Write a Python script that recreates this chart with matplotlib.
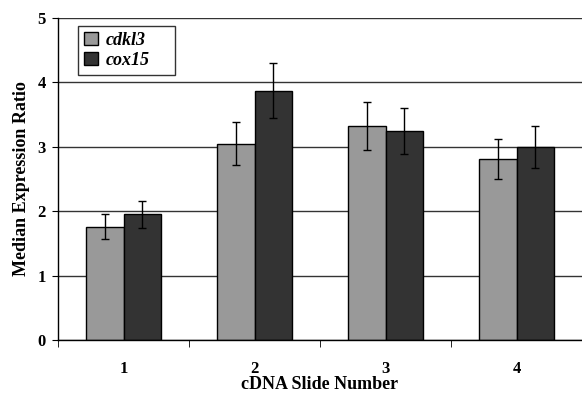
import numpy as np
import matplotlib.pyplot as plt
from matplotlib.patches import Patch

slides = ["1", "2", "3", "4"]
cdkl3 = [1.76, 3.05, 3.32, 2.81]
cdkl3_err = [0.195, 0.33, 0.37, 0.315]
cox15 = [1.95, 3.87, 3.24, 3.00]
cox15_err = [0.21, 0.43, 0.355, 0.325]

plt.rcParams['font.family'] = ['Liberation Serif', 'DejaVu Serif']

fig = plt.figure(figsize=(5.82, 3.98), dpi=100)
ax = fig.add_axes([0.0997, 0.1457, 0.9003, 0.8091])

x = np.arange(1, len(slides) + 1)
w = 0.285
ax.set_axisbelow(True)
ax.yaxis.grid(True, color='#333333', linewidth=1.0)
ax.bar(x - w / 2, cdkl3, w, color='#999999', edgecolor='black', linewidth=1.0,
       yerr=cdkl3_err, error_kw=dict(ecolor='black', elinewidth=1.0, capsize=3, capthick=1.0))
ax.bar(x + w / 2, cox15, w, color='#333333', edgecolor='black', linewidth=1.0,
       yerr=cox15_err, error_kw=dict(ecolor='black', elinewidth=1.0, capsize=3, capthick=1.0))

ax.set_xlim(0.5, len(slides) + 0.5)
ax.set_ylim(0, 5)
ax.set_yticks(range(0, 6))
ax.set_xticks(x)
ax.set_xticklabels(slides)
ax.set_xticks(np.arange(0.5, len(slides) + 0.5), minor=True)
ax.tick_params(axis='x', which='major', length=0, pad=15, labelsize=12)
ax.tick_params(axis='x', which='minor', length=5, direction='out', color='black')
ax.tick_params(axis='y', length=4, direction='out', pad=5, labelsize=12)
for lbl in ax.get_xticklabels() + ax.get_yticklabels():
    lbl.set_fontweight('bold')

ax.spines['top'].set_visible(False)
ax.spines['right'].set_visible(False)
ax.spines['left'].set_linewidth(1.0)
ax.spines['bottom'].set_linewidth(1.0)

ax.set_xlabel('cDNA Slide Number', fontweight='bold', fontsize=13)
ax.xaxis.set_label_coords(0.5, -0.112)
ax.set_ylabel('Median Expression Ratio', fontweight='bold', fontsize=13, labelpad=5)

handles = [Patch(facecolor='#999999', edgecolor='black', label='cdkl3'),
           Patch(facecolor='#333333', edgecolor='black', label='cox15')]
leg = ax.legend(handles=handles, loc='upper left', bbox_to_anchor=(0.038, 0.976, 0.185, 0.0),
                mode='expand', frameon=True, fancybox=False, edgecolor='black',
                prop=dict(style='italic', weight='bold', size=13),
                handlelength=0.75, handleheight=0.75, handletextpad=0.45,
                borderpad=0.35, labelspacing=0.15, borderaxespad=0)
leg.get_frame().set_linewidth(1.0)

fig.savefig('out.png', dpi=100)
